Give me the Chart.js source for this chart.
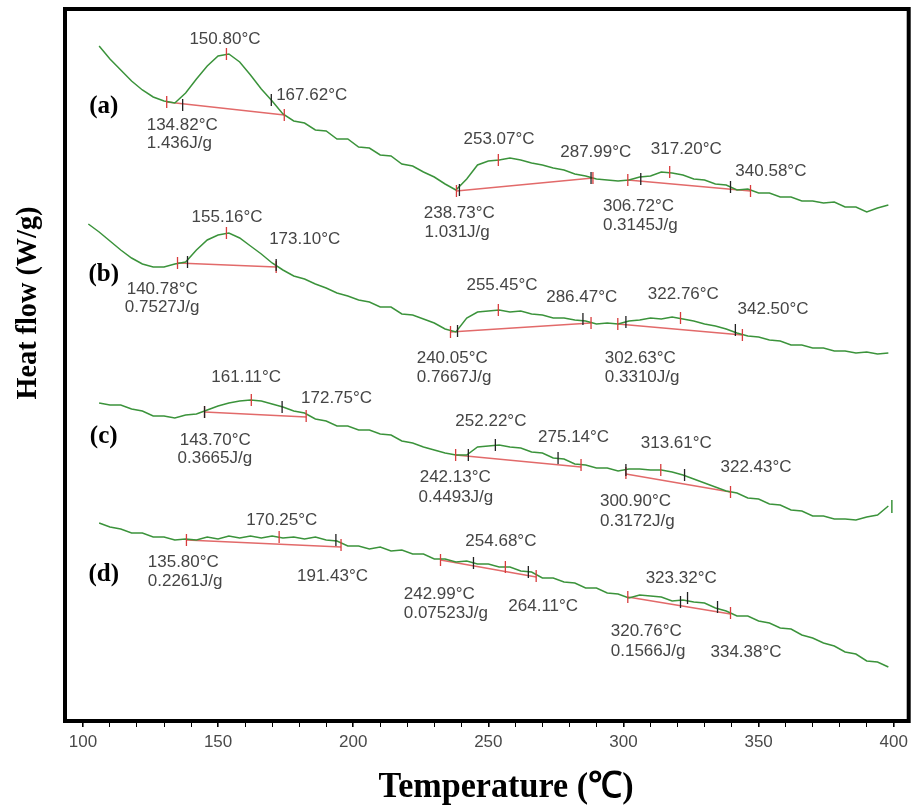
<!DOCTYPE html>
<html>
<head>
<meta charset="utf-8">
<script src="https://cdn.jsdelivr.net/npm/chart.js@4.4.0/dist/chart.umd.min.js"></script>
<style>
  html, body { margin: 0; padding: 0; background: #fff; }
</style>
</head>
<body>
<canvas id="dsc" width="916" height="811"></canvas>
<script>
// temperatures (°C) sampled along the traces
const temps = [
  102,106,110,114,118,122,126,130,134,138,
  142,146,150,154,158,162,166,170,174,178,
  182,186,190,194,198,202,206,210,214,218,
  222,226,230,234,238,242,246,250,254,258,
  262,266,270,274,278,282,286,290,294,298,
  302,306,310,314,318,322,326,330,334,338,
  342,346,350,354,358,362,366,370,374,378,
  382,386,390,394,398
];

// heat flow (arbitrary offset units, curves stacked)
const heatA = [
  null,6.75,6.62,6.51,6.40,6.31,6.24,6.20,6.18,6.28,
  6.42,6.55,6.65,6.67,6.59,6.46,6.32,6.20,6.07,6.00,
  5.98,5.91,5.90,5.82,5.82,5.74,5.73,5.66,5.65,5.57,
  5.55,5.49,5.44,5.37,5.31,5.42,5.56,5.60,5.61,5.63,
  5.61,5.58,5.56,5.53,5.51,5.47,5.45,5.42,5.41,5.40,
  5.41,5.44,5.45,5.49,5.48,5.46,5.42,5.41,5.37,5.36,
  5.31,5.32,5.28,5.28,5.24,5.24,5.20,5.20,5.18,5.19,
  5.14,5.14,5.09,5.13,5.16
];
const heatB = [
  4.97,4.89,4.80,4.71,4.63,4.57,4.54,4.54,4.57,4.59,
  4.71,4.81,4.86,4.88,4.83,4.75,4.67,4.58,4.51,4.45,
  4.42,4.37,4.33,4.28,4.25,4.21,4.19,4.14,4.14,4.07,
  4.06,4.02,3.98,3.92,3.89,4.03,4.09,4.10,4.11,4.09,
  4.10,4.07,4.06,4.03,4.03,4.01,4.00,3.97,3.98,3.97,
  4.00,4.01,4.03,4.02,4.04,4.02,4.00,3.97,3.95,3.92,
  3.88,3.85,3.84,3.81,3.80,3.76,3.76,3.73,3.73,3.70,
  3.70,3.68,3.69,3.67,3.68
];
const heatC = [
  null,3.18,3.16,3.16,3.12,3.10,3.05,3.05,3.03,3.06,
  3.07,3.11,3.15,3.18,3.20,3.21,3.20,3.17,3.14,3.10,
  3.08,3.02,3.00,2.95,2.95,2.91,2.91,2.87,2.86,2.80,
  2.78,2.74,2.71,2.68,2.66,2.66,2.74,2.75,2.76,2.74,
  2.73,2.69,2.68,2.63,2.62,2.57,2.56,2.53,2.53,2.50,
  2.52,2.52,2.51,2.51,2.49,2.46,2.42,2.38,2.34,2.30,
  2.28,2.23,2.22,2.17,2.16,2.11,2.10,2.05,2.05,2.02,
  2.02,2.01,2.04,2.06,2.15
];
const heatD = [
  null,1.98,1.94,1.92,1.88,1.88,1.84,1.84,1.81,1.82,
  1.81,1.84,1.82,1.85,1.83,1.85,1.83,1.85,1.83,1.84,
  1.82,1.84,1.81,1.80,1.75,1.75,1.72,1.74,1.70,1.71,
  1.67,1.67,1.62,1.62,1.59,1.60,1.57,1.57,1.54,1.54,
  1.50,1.49,1.43,1.43,1.39,1.38,1.33,1.33,1.28,1.27,
  1.23,1.26,1.25,1.24,1.20,1.21,1.19,1.18,1.13,1.10,
  1.05,1.05,1.00,0.98,0.93,0.92,0.86,0.83,0.78,0.75,
  0.69,0.67,0.60,0.59,0.54
];

// small end-of-run mark after trace (c)
const endMarkC = [[399.3,2.21],[399.3,2.08]];

// integration baselines [start, end] as [temp, heat]
const baselines = [
  [[131.0,6.19],[174.5,6.06]], [[238.2,5.30],[288.7,5.43]], [[301.6,5.41],[347.0,5.30]],
  [[135.0,4.58],[171.5,4.54]], [[236.0,3.89],[288.0,3.98]], [[297.9,3.97],[344.0,3.86]],
  [[145.0,3.09],[182.6,3.04]], [[237.9,2.66],[284.3,2.54]], [[300.9,2.47],[339.6,2.29]],
  [[138.3,1.81],[195.5,1.74]], [[232.3,1.61],[267.7,1.44]], [[301.6,1.24],[339.6,1.07]]
];

// marker ticks on the traces
const redTicks = [
  [131.0,6.19],[153.1,6.67],[174.5,6.06],[238.2,5.30],[253.7,5.61],[288.7,5.43],[301.6,5.41],[317.1,5.49],[347.0,5.30],
  [135.0,4.58],[153.1,4.88],[171.5,4.54],[236.0,3.89],[253.7,4.11],[288.0,3.98],[297.9,3.97],[321.1,4.03],[344.0,3.86],
  [145.0,3.09],[162.3,3.21],[182.6,3.05],[237.9,2.66],[284.3,2.56],[300.9,2.48],[313.8,2.51],[339.6,2.29],
  [138.3,1.81],[172.6,1.84],[195.5,1.76],[232.3,1.61],[256.3,1.54],[267.7,1.45],[301.6,1.24],[339.6,1.08]
];
const blackTicks = [
  [136.9,6.16],[169.7,6.21],[239.3,5.31],[288.0,5.43],[306.4,5.42],[339.6,5.34],
  [138.7,4.59],[171.5,4.56],[238.6,3.90],[285.0,4.02],[300.9,3.99],[341.4,3.91],
  [145.0,3.09],[173.7,3.14],[242.6,2.66],[252.6,2.76],[275.8,2.63],[300.9,2.51],[322.6,2.46],
  [193.6,1.81],[244.5,1.58],[264.8,1.49],[321.1,1.19],[323.7,1.23],[334.8,1.14]
];

// peak annotations: text, left temp, heat
const labelsA = [
  ['150.80°C',139.4,6.82], ['167.62°C',171.5,6.26], ['134.82°C',123.6,5.96], ['1.436J/g',123.6,5.78],
  ['253.07°C',240.8,5.82], ['287.99°C',276.6,5.69], ['317.20°C',310.1,5.72], ['340.58°C',341.4,5.50],
  ['238.73°C',226.1,5.08], ['1.031J/g',226.4,4.89], ['306.72°C',292.4,5.15], ['0.3145J/g',292.4,4.96]
];
const labelsB = [
  ['155.16°C',140.2,5.04], ['173.10°C',168.9,4.82], ['140.78°C',116.2,4.32], ['0.7527J/g',115.5,4.14],
  ['255.45°C',241.9,4.36], ['286.47°C',271.4,4.24], ['322.76°C',309.0,4.27], ['342.50°C',342.2,4.12],
  ['240.05°C',223.5,3.63], ['0.7667J/g',223.5,3.44], ['302.63°C',293.1,3.63], ['0.3310J/g',293.1,3.44]
];
const labelsC = [
  ['161.11°C',147.5,3.44], ['172.75°C',180.7,3.23], ['143.70°C',135.8,2.81], ['0.3665J/g',135.0,2.63],
  ['252.22°C',237.8,3.00], ['275.14°C',268.4,2.84], ['313.61°C',306.4,2.78], ['322.43°C',335.9,2.54],
  ['242.13°C',224.6,2.44], ['0.4493J/g',224.2,2.24], ['300.90°C',291.3,2.20], ['0.3172J/g',291.3,2.00]
];
const labelsD = [
  ['170.25°C',160.4,2.01], ['135.80°C',124.0,1.59], ['0.2261J/g',124.0,1.40], ['191.43°C',179.2,1.45],
  ['254.68°C',241.5,1.80], ['242.99°C',218.7,1.27], ['0.07523J/g',218.7,1.08], ['264.11°C',257.4,1.15],
  ['323.32°C',308.2,1.43], ['320.76°C',295.3,0.90], ['0.1566J/g',295.3,0.70], ['334.38°C',332.2,0.69]
];

// sample letters
const panelNames = ['(a)', '(b)', '(c)', '(d)'];
const panelHeat = [6.14, 4.46, 2.84, 1.46];
const panelTemp = 107.7;

const xTicks = [100,110,120,130,140,150,160,170,180,190,200,210,220,230,240,250,260,270,280,290,
  300,310,320,330,340,350,360,370,380,390,400];

const toPts = arr => temps.map((t, i) => ({ x: t, y: arr[i] }));
const pair = p => ({ x: p[0], y: p[1] });

const curveStyle = { borderColor: '#3b933b', borderWidth: 1.5, pointRadius: 0, tension: 0, spanGaps: false };

const datasets = [
  { type: 'scatter', data: blackTicks.map(pair), pointStyle: 'line', rotation: 90, radius: 6,
    borderColor: '#222', borderWidth: 1.3, showLine: false },
  { type: 'scatter', data: redTicks.map(pair), pointStyle: 'line', rotation: 90, radius: 6,
    borderColor: '#d83c3c', borderWidth: 1.3, showLine: false },
  { data: toPts(heatA), ...curveStyle },
  { data: toPts(heatB), ...curveStyle },
  { data: toPts(heatC), ...curveStyle },
  { data: toPts(heatD), ...curveStyle },
  { data: endMarkC.map(pair), ...curveStyle }
];
baselines.forEach(b => datasets.push({
  data: b.map(pair), borderColor: '#e26a6a', borderWidth: 1.5, pointRadius: 0
}));

// texts, frame and axis titles
const dscText = {
  id: 'dscText',
  afterDatasetsDraw(chart) {
    const { ctx, chartArea: a, scales: { x, y } } = chart;
    ctx.save();
    ctx.fillStyle = '#454545';
    ctx.font = '17px "Liberation Sans", Arial, sans-serif';
    ctx.textAlign = 'left';
    ctx.textBaseline = 'middle';
    [labelsA, labelsB, labelsC, labelsD].forEach(list => {
      list.forEach(([txt, t, h]) => ctx.fillText(txt, x.getPixelForValue(t), y.getPixelForValue(h)));
    });

    ctx.fillStyle = '#000';
    ctx.font = 'bold 25px "Liberation Serif", "Times New Roman", serif';
    ctx.textAlign = 'center';
    panelNames.forEach((n, i) => ctx.fillText(n, x.getPixelForValue(panelTemp), y.getPixelForValue(panelHeat[i])));

    ctx.strokeStyle = '#000';
    ctx.lineWidth = 4;
    ctx.strokeRect(a.left, a.top, a.right - a.left, a.bottom - a.top);

    // x title, slightly condensed like the original
    ctx.font = 'bold 36px "Liberation Serif", "Times New Roman", serif';
    let txt = 'Temperature (℃)';
    let w = ctx.measureText(txt).width;
    ctx.save();
    ctx.translate(a.left + 441, a.bottom + 67);
    ctx.scale(Math.min(1, 255 / w), 1);
    ctx.fillText(txt, 0, 0);
    ctx.restore();

    ctx.font = 'bold 30px "Liberation Serif", "Times New Roman", serif';
    txt = 'Heat flow (W/g)';
    w = ctx.measureText(txt).width;
    ctx.save();
    ctx.translate(28, a.top + 294);
    ctx.rotate(-Math.PI / 2);
    ctx.scale(Math.min(1, 193 / w), 1);
    ctx.fillText(txt, 0, 0);
    ctx.restore();
    ctx.restore();
  }
};

new Chart(document.getElementById('dsc'), {
  type: 'line',
  data: { datasets },
  options: {
    responsive: false,
    animation: false,
    devicePixelRatio: 1,
    layout: { padding: { top: 9, right: 4, left: 0, bottom: 0 } },
    plugins: { legend: { display: false }, tooltip: { enabled: false } },
    scales: {
      x: {
        type: 'linear',
        min: 93.37,
        max: 405.53,
        afterBuildTicks: s => { s.ticks = xTicks.map(v => ({ value: v })); },
        afterFit: s => { s.height = 90; },
        border: { display: false },
        grid: {
          drawOnChartArea: false, drawTicks: true, tickLength: 6, color: '#000',
          lineWidth: c => (c.tick && c.tick.value % 50 === 0 ? 1.6 : 1)
        },
        ticks: {
          autoSkip: false, maxRotation: 0, padding: 5, color: '#4a4a4a',
          font: { family: '"Liberation Sans", Arial, sans-serif', size: 17 },
          callback: v => (v % 50 === 0 ? v : '')
        }
      },
      y: {
        type: 'linear',
        min: 0,
        max: 7.12,
        afterFit: s => { s.width = 65; },
        border: { display: false },
        grid: { display: false },
        ticks: { display: false }
      }
    }
  },
  plugins: [dscText]
});
</script>
</body>
</html>
